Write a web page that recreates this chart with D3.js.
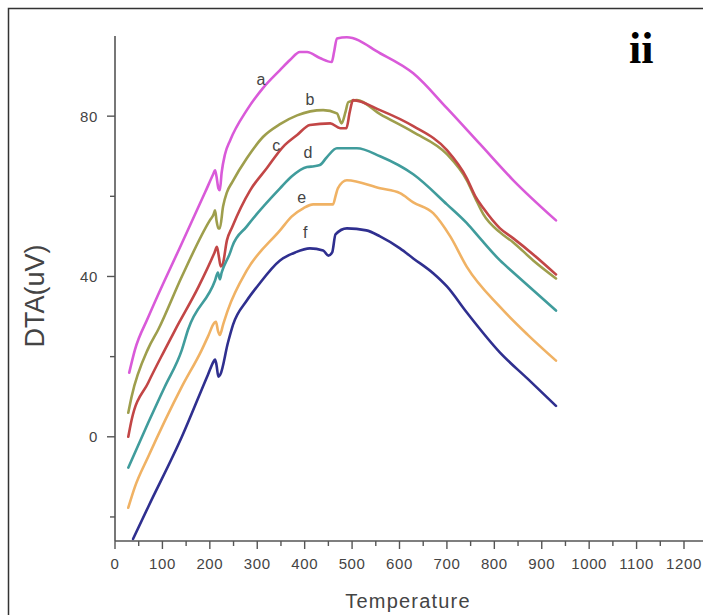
<!DOCTYPE html>
<html><head><meta charset="utf-8">
<script src="https://cdn.jsdelivr.net/npm/d3@7"></script>
<style>html,body{margin:0;padding:0;background:#fff;}svg{display:block;}</style>
</head><body>
<svg id="chart" width="703" height="615"></svg>
<script>
const seriesNames = ["a","b","c","d","e","f"];
const seriesColors = ["#d95ad9","#9e9e4c","#c24646","#409c9c","#f0b264","#2f2f8f"];
const seriesA = [[30,16],[42,21.7],[70,29.8],[141,48.3],[190,61],[207,65.5],[211,66.5],[214,65],[218,62],[221,61.5],[225,66],[232,70.5],[243,74],[278,81.5],[312,87],[348,91.5],[369,94],[390,96],[405,96],[432,94.5],[457,93.5],[462,96],[468,99.4],[489,99.7],[559,95.7],[629,90.7],[700,82],[770,73],[840,64],[930,54]];
const seriesB = [[28,6],[35,10],[70,22],[91,26.7],[141,40],[200,54],[208,55.5],[211,56.5],[214,54],[218,52],[221,52],[228,57.5],[236,61],[247,63.5],[278,69.5],[312,74.8],[348,78],[384,80.2],[439,81.5],[468,80.7],[478,78.2],[486,81],[492,83.5],[510,84],[559,80.5],[629,76],[700,70.5],[742,64],[760,59.5],[777,55.5],[812,51],[840,48.5],[882,44],[930,39.5]];
const seriesC = [[28,0],[35,4.2],[70,13.5],[105,21.7],[127,26.7],[176,37.4],[210,46],[215,47.4],[219,45],[223,42.5],[227,43],[236,49],[247,52.3],[285,61.5],[320,67],[354,72.3],[384,75.3],[411,77.8],[454,78.2],[475,77],[488,77],[495,81],[502,84],[559,81.5],[629,77.5],[700,71.5],[742,64.5],[760,60],[777,57],[812,52],[840,49.5],[882,45.5],[930,40.5]];
const seriesD = [[28,-7.7],[70,3.5],[105,12.5],[141,21.7],[154,26.7],[211,39],[217,41],[221,39.3],[225,41],[243,46],[247,47.4],[278,52.5],[348,62],[373,65],[405,67.3],[420,67.5],[432,67.8],[447,69.8],[468,72],[510,72],[559,70],[629,65.5],[700,58],[742,53.3],[770,49.5],[812,44],[840,41],[930,31.5]];
const seriesE = [[28,-17.7],[42,-12.5],[70,-5],[141,12.5],[183,21.7],[196,25],[210,28.5],[213,28.7],[217,26.5],[221,25.4],[228,28],[238,31.6],[278,41.5],[348,51.5],[373,55],[397,57],[418,58],[460,58],[465,60],[470,62],[489,64],[559,62],[601,60.8],[629,58.5],[671,55.8],[707,50],[742,42.4],[812,32.4],[870,25.5],[930,19]];
const seriesF = [[38,-25.5],[70,-17.5],[141,0],[196,15.5],[208,18.8],[211,19.3],[214,18],[218,15],[222,15.5],[238,23.4],[249,28],[278,34],[300,37.5],[348,44],[380,46],[411,47],[439,46.5],[450,45.2],[458,46],[465,50.5],[489,52],[530,51.5],[559,50],[601,47],[629,44.5],[671,40.8],[700,37.5],[742,31],[812,21],[870,14.5],[930,7.7]];
const seriesData = [seriesA,seriesB,seriesC,seriesD,seriesE,seriesF];
const labelPos = [[308,89],[411,84],[340,72.5],[407,70.8],[394,59.6],[401,50.8]];
const xMajorTicks = [0,100,200,300,400,500,600,700,800,900,1000,1100,1200];
const xMinorTicks = [50,150,250,350,450,550,650,750,850,950,1050,1150];
const yMajorTicks = [0,40,80];
const yMinorTicks = [-20,20,60];
const xTitle = "Temperature";
const yTitle = "DTA(uV)";
const panelTag = "ii";

const svg = d3.select("#chart");
const x = d3.scaleLinear().domain([0,1200]).range([115,684]);
const y = d3.scaleLinear().domain([-26,100]).range([541,36]);

// outer frame
svg.append("rect").attr("x",8.5).attr("y",8.5).attr("width",720).attr("height",640)
  .attr("fill","none").attr("stroke","#333").attr("stroke-width",1.5);

const axisColor = "#555";
const textColor = "#444";
// x axis
svg.append("line").attr("x1",x(0)).attr("x2",703).attr("y1",y(-26)).attr("y2",y(-26)).attr("stroke",axisColor).attr("stroke-width",1.6);
svg.selectAll(".xmaj").data(xMajorTicks).join("line").attr("x1",d=>x(d)).attr("x2",d=>x(d))
  .attr("y1",y(-26)).attr("y2",y(-26)+8).attr("stroke",axisColor).attr("stroke-width",1.4);
svg.selectAll(".xmin").data(xMinorTicks).join("line").attr("x1",d=>x(d)).attr("x2",d=>x(d))
  .attr("y1",y(-26)).attr("y2",y(-26)+5).attr("stroke",axisColor).attr("stroke-width",1.4);
svg.selectAll(".xlab").data(xMajorTicks).join("text").attr("x",d=>x(d)).attr("y",569)
  .attr("text-anchor","middle").attr("font-family","Liberation Sans, Arial, sans-serif").attr("font-size",15)
  .attr("letter-spacing",0.6).attr("fill",textColor).text(d=>d);
// y axis
svg.append("line").attr("x1",x(0)).attr("x2",x(0)).attr("y1",y(-26)).attr("y2",y(100)).attr("stroke",axisColor).attr("stroke-width",1.6);
svg.selectAll(".ymaj").data(yMajorTicks).join("line").attr("x1",x(0)-8).attr("x2",x(0))
  .attr("y1",d=>y(d)).attr("y2",d=>y(d)).attr("stroke",axisColor).attr("stroke-width",1.4);
svg.selectAll(".ymin").data(yMinorTicks).join("line").attr("x1",x(0)-5).attr("x2",x(0))
  .attr("y1",d=>y(d)).attr("y2",d=>y(d)).attr("stroke",axisColor).attr("stroke-width",1.4);
svg.selectAll(".ylab").data(yMajorTicks).join("text").attr("x",x(0)-17).attr("y",d=>y(d)+5.5)
  .attr("text-anchor","end").attr("font-family","Liberation Sans, Arial, sans-serif").attr("font-size",15)
  .attr("letter-spacing",0.6).attr("fill",textColor).text(d=>d);

// titles
svg.append("text").attr("x",408).attr("y",608).attr("text-anchor","middle")
  .attr("font-family","Liberation Sans, Arial, sans-serif").attr("font-size",20).attr("letter-spacing",1.2)
  .attr("fill",textColor).text(xTitle);
svg.append("text").attr("transform","translate(44,296) rotate(-90)").attr("text-anchor","middle")
  .attr("font-family","Liberation Sans, Arial, sans-serif").attr("font-size",27)
  .attr("fill",textColor).text(yTitle);
svg.append("text").attr("x",629).attr("y",63).attr("font-family","Liberation Serif, Times New Roman, serif")
  .attr("font-weight","bold").attr("font-size",44).attr("fill","#000").text(panelTag);

// curves
const line = d3.line().x(d=>x(d[0])).y(d=>y(d[1])).curve(d3.curveMonotoneX);
svg.append("defs").append("clipPath").attr("id","clip").append("rect")
  .attr("x",x(0)).attr("y",y(100)-5).attr("width",600).attr("height",y(-26)-y(100)+5);
const g = svg.append("g").attr("clip-path","url(#clip)");
seriesData.forEach((s,i)=>{
  g.append("path").attr("d",line(s)).attr("fill","none").attr("stroke",seriesColors[i])
    .attr("stroke-width",2.6).attr("stroke-linejoin","round").attr("stroke-linecap","round");
});
// curve labels
svg.selectAll(".clab").data(seriesNames).join("text").attr("x",(d,i)=>x(labelPos[i][0])).attr("y",(d,i)=>y(labelPos[i][1])+5)
  .attr("text-anchor","middle").attr("font-family","Liberation Sans, Arial, sans-serif").attr("font-size",16)
  .attr("fill","#444").text(d=>d);
</script>
</body></html>
